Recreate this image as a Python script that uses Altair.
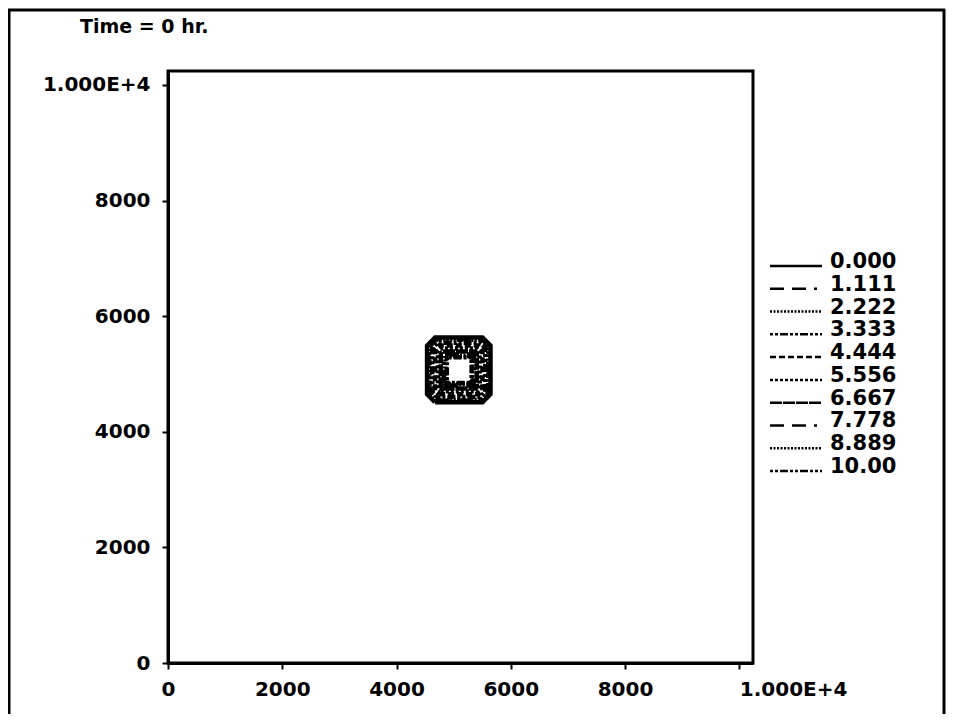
import altair as alt
import pandas as pd

# contour levels and legend labels
levels = [0.000, 1.111, 2.222, 3.333, 4.444, 5.556, 6.667, 7.778, 8.889, 10.00]
labels = ["0.000", "1.111", "2.222", "3.333", "4.444", "5.556", "6.667", "7.778", "8.889", "10.00"]

# extents of each contour ring (data units)
x_lo = [4535, 4555, 4575, 4625, 4675, 4725, 4775, 4830, 4855, 4880]
x_hi = [5645, 5625, 5605, 5555, 5505, 5455, 5405, 5350, 5330, 5315]
y_lo = [4510, 4530, 4550, 4600, 4650, 4700, 4750, 4800, 4825, 4845]
y_hi = [5630, 5610, 5590, 5540, 5490, 5440, 5390, 5335, 5310, 5290]
corner = [140, 130, 120, 90, 70, 50, 30, 10, 0, 0]

# dash styles of the legend entries
dashes = [[1, 0], [14, 8, 14, 8, 3, 5], [2, 1.5], [3, 2, 3, 2, 8, 2], [6, 3],
          [3, 2], [12, 1], [14, 8, 14, 8, 3, 5], [2, 1.5], [3, 2, 3, 2, 8, 2]]

tick_values = [0, 2000, 4000, 6000, 8000, 10000]
axis_max = 10240
title_text = ["Time = 0 hr."]

rows = []
for lab, a, b, c, d, k in zip(labels, x_lo, x_hi, y_lo, y_hi, corner):
    pts = [(a + k, c), (b - k, c), (b, c + k), (b, d - k), (b - k, d),
           (a + k, d), (a, d - k), (a, c + k), (a + k, c)]
    for i, (px, py) in enumerate(pts):
        rows.append({"label": lab, "seq": i, "x": px, "y": py})
contours = pd.DataFrame(rows)
legend_df = pd.DataFrame({"label": labels})
title_df = pd.DataFrame({"t": title_text})

FONT = "DejaVu Sans"

dash_scale = alt.Scale(domain=labels, range=dashes)

main = alt.Chart(contours).mark_line(color="black", strokeWidth=4.5).encode(
    x=alt.X("x:Q", scale=alt.Scale(domain=[0, axis_max], nice=False, zero=False),
            axis=alt.Axis(values=tick_values, format="d", title=None, grid=False,
                          labelExpr="datum.value == 10000 ? '1.000E+4' : datum.label",
                          labelAlign=alt.condition("datum.value == 10000", alt.value("left"), alt.value("center")),
                          labelFlush=False, labelPadding=10)),
    y=alt.Y("y:Q", scale=alt.Scale(domain=[0, axis_max], nice=False, zero=False),
            axis=alt.Axis(values=tick_values, format="d", title=None, grid=False,
                          labelExpr="datum.value == 10000 ? '1.000E+4' : datum.label",
                          labelFlush=False, labelPadding=12)),
    detail="label:N",
    order="seq:Q",
    strokeDash=alt.StrokeDash("label:N", scale=dash_scale, legend=None),
)

leg_y = alt.Y("label:N", scale=alt.Scale(type="point", domain=labels, range=[195, 400], padding=0), axis=None)

leg_lines = alt.Chart(legend_df).mark_rule(color="black", strokeWidth=2.5).encode(
    x=alt.value(602), x2=alt.value(654),
    y=leg_y,
    strokeDash=alt.StrokeDash("label:N", scale=dash_scale, legend=None),
)
leg_text = alt.Chart(legend_df).mark_text(
    align="left", baseline="middle", dy=-4, font=FONT, fontWeight="bold", fontSize=21, color="black"
).encode(
    x=alt.value(662),
    y=leg_y,
    text="label:N",
)

title_mark = alt.Chart(title_df).mark_text(
    align="left", baseline="alphabetic", font=FONT, fontWeight="bold", fontSize=19, color="black"
).encode(x=alt.value(-88), y=alt.value(-38), text="t:N")

frame_df = pd.DataFrame({"side": ["left", "top", "right"]})
frame_left = alt.Chart(frame_df).transform_filter("datum.side == 'left'").mark_rule(color="black", strokeWidth=3).encode(
    x=alt.value(-159), y=alt.value(-62), y2=alt.value(643))
frame_top = alt.Chart(frame_df).transform_filter("datum.side == 'top'").mark_rule(color="black", strokeWidth=3).encode(
    x=alt.value(-160), x2=alt.value(777), y=alt.value(-61))
frame_right = alt.Chart(frame_df).transform_filter("datum.side == 'right'").mark_rule(color="black", strokeWidth=3).encode(
    x=alt.value(776), y=alt.value(-62), y2=alt.value(643))

legend_layer = alt.layer(leg_lines, leg_text)

chart = alt.layer(main, legend_layer, title_mark, frame_left, frame_top, frame_right).resolve_scale(
    y="independent", x="independent"
).properties(
    width=585, height=592,
    autosize=alt.AutoSizeParams(type="none"),
    padding={"left": 160, "top": 63, "right": 193, "bottom": 51},
    background="white",
).configure_view(
    stroke="black", strokeWidth=3
).configure_axis(
    domainColor="black", domainWidth=3, tickColor="black", tickWidth=2, tickSize=6,
    labelFont=FONT, labelFontWeight="bold", labelFontSize=20, labelColor="black",
)

chart.save("out.html", embed_options={"renderer": "svg", "actions": False})
